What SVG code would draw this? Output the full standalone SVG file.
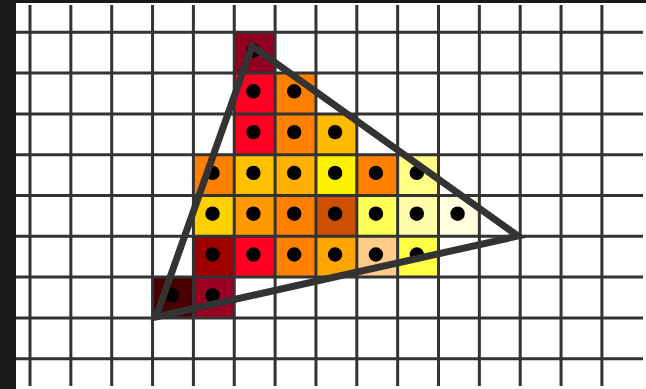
<svg xmlns="http://www.w3.org/2000/svg" width="646" height="389" viewBox="0 0 646 389">
<style>
.g{stroke:#333;stroke-width:3;fill:none}
.d{fill:#000}
.tri{fill:none;stroke:#333;stroke-width:7;stroke-linejoin:miter}
</style>
<rect width="646" height="389" fill="#fff"/>
<rect x="0" y="0" width="16" height="389" fill="#1a1a1a"/>
<rect x="0" y="0" width="646" height="3" fill="#1a1a1a"/>
<g id="cells">
<rect x="234.25" y="32.3" width="40.85" height="40.8" fill="#900020"/>
<rect x="234.25" y="73.1" width="40.85" height="40.8" fill="#ff0022"/>
<rect x="275.1" y="73.1" width="40.85" height="40.8" fill="#ff8000"/>
<rect x="234.25" y="113.9" width="40.85" height="40.8" fill="#ff0022"/>
<rect x="275.1" y="113.9" width="40.85" height="40.8" fill="#ff8000"/>
<rect x="315.95" y="113.9" width="40.85" height="40.8" fill="#ffbb00"/>
<rect x="193.4" y="154.7" width="40.85" height="40.8" fill="#ff8000"/>
<rect x="234.25" y="154.7" width="40.85" height="40.8" fill="#ffc000"/>
<rect x="275.1" y="154.7" width="40.85" height="40.8" fill="#ffb000"/>
<rect x="315.95" y="154.7" width="40.85" height="40.8" fill="#fff200"/>
<rect x="356.8" y="154.7" width="40.85" height="40.8" fill="#ff8000"/>
<rect x="397.65" y="154.7" width="40.85" height="40.8" fill="#ffff88"/>
<rect x="193.4" y="195.5" width="40.85" height="40.8" fill="#ffd000"/>
<rect x="234.25" y="195.5" width="40.85" height="40.8" fill="#ff9900"/>
<rect x="275.1" y="195.5" width="40.85" height="40.8" fill="#ff8000"/>
<rect x="315.95" y="195.5" width="40.85" height="40.8" fill="#cc5000"/>
<rect x="356.8" y="195.5" width="40.85" height="40.8" fill="#ffff55"/>
<rect x="397.65" y="195.5" width="40.85" height="40.8" fill="#ffffaa"/>
<rect x="438.5" y="195.5" width="40.85" height="40.8" fill="#ffffdd"/>
<rect x="193.4" y="236.3" width="40.85" height="40.8" fill="#9e0000"/>
<rect x="234.25" y="236.3" width="40.85" height="40.8" fill="#ff0022"/>
<rect x="275.1" y="236.3" width="40.85" height="40.8" fill="#ff8000"/>
<rect x="315.95" y="236.3" width="40.85" height="40.8" fill="#ffa500"/>
<rect x="356.8" y="236.3" width="40.85" height="40.8" fill="#ffcc88"/>
<rect x="397.65" y="236.3" width="40.85" height="40.8" fill="#ffff44"/>
<rect x="152.55" y="277.1" width="40.85" height="40.8" fill="#4a0000"/>
<rect x="193.4" y="277.1" width="40.85" height="40.8" fill="#990022"/>
</g>
<g id="grid" class="g">
<path d="M30 5V386M70.85 5V386M111.7 5V386M152.55 5V386M193.4 5V386M234.25 5V386M275.1 5V386M315.95 5V386M356.8 5V386M397.65 5V386M438.5 5V386M479.35 5V386M520.2 5V386M561.05 5V386M601.9 5V386"/>
<path d="M16 32.3H643M16 73.1H643M16 113.9H643M16 154.7H643M16 195.5H643M16 236.3H643M16 277.1H643M16 317.9H643M16 358.7H643"/>
</g>
<g id="dots" class="d" transform="translate(-1.3,-2.2)">
<circle cx="254.7" cy="52.7" r="7.2"/>
<circle cx="254.7" cy="93.5" r="7.2"/><circle cx="295.5" cy="93.5" r="7.2"/>
<circle cx="254.7" cy="134.3" r="7.2"/><circle cx="295.5" cy="134.3" r="7.2"/><circle cx="336.4" cy="134.3" r="7.2"/>
<circle cx="213.8" cy="175.1" r="7.2"/><circle cx="254.7" cy="175.1" r="7.2"/><circle cx="295.5" cy="175.1" r="7.2"/><circle cx="336.4" cy="175.1" r="7.2"/><circle cx="377.2" cy="175.1" r="7.2"/><circle cx="418.1" cy="175.1" r="7.2"/>
<circle cx="213.8" cy="215.9" r="7.2"/><circle cx="254.7" cy="215.9" r="7.2"/><circle cx="295.5" cy="215.9" r="7.2"/><circle cx="336.4" cy="215.9" r="7.2"/><circle cx="377.2" cy="215.9" r="7.2"/><circle cx="418.1" cy="215.9" r="7.2"/><circle cx="458.9" cy="215.9" r="7.2"/>
<circle cx="213.8" cy="256.7" r="7.2"/><circle cx="254.7" cy="256.7" r="7.2"/><circle cx="295.5" cy="256.7" r="7.2"/><circle cx="336.4" cy="256.7" r="7.2"/><circle cx="377.2" cy="256.7" r="7.2"/><circle cx="418.1" cy="256.7" r="7.2"/>
<circle cx="173" cy="297.5" r="7.2"/><circle cx="213.8" cy="297.5" r="7.2"/>
</g>
<g id="triangle">
<polygon class="tri" points="252,46 518,236 156,317"/>
</g>
</svg>
